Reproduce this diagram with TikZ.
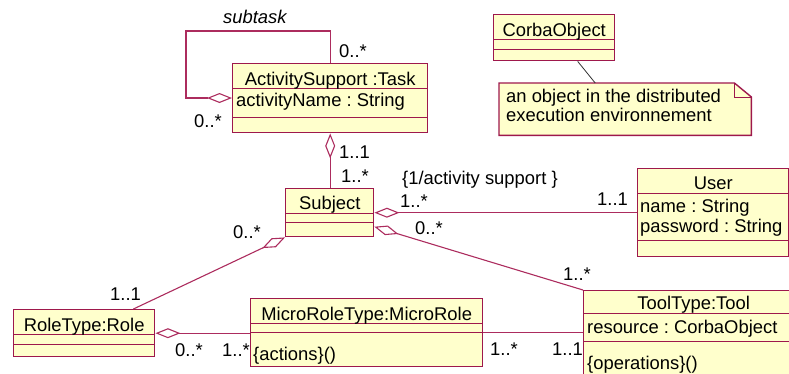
\documentclass[tikz,border=0pt]{standalone}
\usepackage{fontspec}
\setmainfont{Liberation Sans}
\usetikzlibrary{arrows.meta}
\frenchspacing

\definecolor{umlline}{RGB}{158,24,76}
\definecolor{umlassoc}{RGB}{172,44,94}
\definecolor{umlfill}{RGB}{255,255,204}

\tikzset{
  classbox/.style={draw=umlline, fill=umlfill, line width=1.4pt, anchor=north west, inner sep=0pt},
  divider/.style={draw=umlline, line width=0.9pt},
  classname/.style={anchor=base, inner sep=0pt},
  member/.style={anchor=base west, inner sep=0pt},
  mult/.style={anchor=base west, inner sep=0pt},
  assoc/.style={draw=umlassoc, line width=1.1pt},
  aggr/.style={assoc, {Diamond[open,length=25pt,width=10pt]}-},
  aggrend/.style={assoc, -{Diamond[open,length=25pt,width=10pt]}},
}

\begin{document}
\begin{tikzpicture}[x=1pt, y=-1pt, font=\fontsize{18.4}{18.5}\selectfont]
      \useasboundingbox (0,0) rectangle (789,373);
      \clip (0,0) rectangle (789,373);

      \node[classbox, minimum width=195pt, minimum height=69pt] (task) at (232,63) {};
      \node[classbox, minimum width=88pt, minimum height=48pt] (subject) at (285,188) {};
      \node[classbox, minimum width=151pt, minimum height=88pt] (user) at (637,168) {};
      \node[classbox, minimum width=121pt, minimum height=46pt] (corba) at (493,14) {};
      \node[classbox, minimum width=141pt, minimum height=47pt] (role) at (13,309) {};
      \node[classbox, minimum width=232pt, minimum height=68pt] (microrole) at (250,298) {};
      \node[classbox, minimum width=220pt, minimum height=100pt] (tool) at (583,290) {};

      \draw[divider] (task.west |- 0,88) -- (task.east |- 0,88);
      \draw[divider] (task.west |- 0,117) -- (task.east |- 0,117);
      \draw[divider] (subject.west |- 0,213) -- (subject.east |- 0,213);
      \draw[divider] (subject.west |- 0,222) -- (subject.east |- 0,222);
      \draw[divider] (user.west |- 0,193) -- (user.east |- 0,193);
      \draw[divider] (user.west |- 0,240) -- (user.east |- 0,240);
      \draw[divider] (corba.west |- 0,39) -- (corba.east |- 0,39);
      \draw[divider] (corba.west |- 0,49) -- (corba.east |- 0,49);
      \draw[divider] (role.west |- 0,334) -- (role.east |- 0,334);
      \draw[divider] (role.west |- 0,344) -- (role.east |- 0,344);
      \draw[divider] (microrole.west |- 0,323) -- (microrole.east |- 0,323);
      \draw[divider] (microrole.west |- 0,332) -- (microrole.east |- 0,332);
      \draw[divider] (tool.west |- 0,313) -- (tool.east |- 0,313);
      \draw[divider] (tool.west |- 0,341) -- (tool.east |- 0,341);

      \node[classname] (task-name) at (task.north |- 0,85) {ActivitySupport :Task};
      \node[member] (task-attr) at (236,106) {activityName : String};
      \node[classname] (subject-name) at (subject.north |- 0,209) {Subject};
      \node[classname] (user-name) at (user.north |- 0,189) {User};
      \node[member] (user-attr1) at (640,212) {name : String};
      \node[member] (user-attr2) at (640,232) {password : String};
      \node[classname] (corba-name) at (corba.north |- 0,36) {CorbaObject};
      \node[classname] (role-name) at (role.north |- 0,331) {RoleType:Role};
      \node[classname] (microrole-name) at (microrole.north |- 0,320) {MicroRoleType:MicroRole};
      \node[member] (microrole-op) at (253,360) {\{actions\}()};
      \node[classname] (tool-name) at (tool.north |- 0,309) {ToolType:Tool};
      \node[member] (tool-attr) at (587,333) {resource : CorbaObject};
      \node[member] (tool-op) at (587,369) {\{operations\}()};

      \node[minimum width=252pt, minimum height=52pt, anchor=north west, inner sep=0pt] (note) at (499,83) {};
      \filldraw[draw=umlline, fill=umlfill, line width=1.4pt] (note.north west) -- ([xshift=-17pt]note.north east)
        -- ([yshift=-14pt]note.north east) -- (note.south east) -- (note.south west) -- cycle;
      \draw[umlline, line width=0.9pt] ([xshift=-17pt]note.north east) |- ([yshift=-14pt]note.north east);
      \node[anchor=north west, inner sep=0pt, align=left] (note-text) at (506,89)
        {an object in the distributed\\execution environnement};
      \draw[black!80, line width=0.8pt] ([xshift=23.5pt]corba.south) -- ([xshift=-30pt]note.north);

      \draw[aggrend] (task.north) |- (186,31) |- (task.west |- 0,98);
      \draw[aggr] (task.south) -- (task.south |- subject.north);
      \draw[aggr] (subject.east) -- (user.west);
      \draw[aggr] ([yshift=-14pt]subject.east) -- (tool.north west);
      \draw[aggr] (subject.south west) -- ([xshift=-22pt]role.north east);
      \draw[aggr] (role.east) -- (role.east -| microrole.west);
      \draw[assoc] (microrole.east) -- (microrole.east -| tool.west);

      \node[mult, font=\fontsize{18.4}{18.5}\selectfont\itshape] (loop-name) at (223,23) {subtask};
      \node[mult] (m1) at (339,57) {0..*};
      \node[mult] (m2) at (194,127) {0..*};
      \node[mult] (m3) at (339,158) {1..1};
      \node[mult] (m4) at (341,182) {1..*};
      \node[mult] (user-constraint) at (402,184) {\{1/activity support \}};
      \node[mult] (m5) at (400,207) {1..*};
      \node[mult] (m6) at (597,205) {1..1};
      \node[mult] (m7) at (415,234) {0..*};
      \node[mult] (m8) at (563,280) {1..*};
      \node[mult] (m9) at (233,238) {0..*};
      \node[mult] (m10) at (110,300) {1..1};
      \node[mult] (m11) at (175,356) {0..*};
      \node[mult] (m12) at (222,356) {1..*};
      \node[mult] (m13) at (490,355) {1..*};
      \node[mult] (m14) at (552,355) {1..1};

    \end{tikzpicture}
\end{document}
